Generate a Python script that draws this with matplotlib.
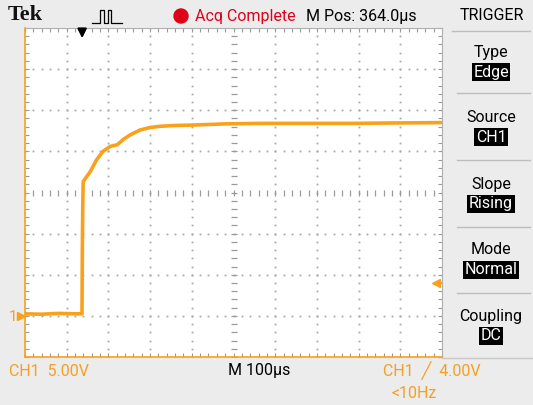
import numpy as np
import matplotlib
matplotlib.use("Agg")
import matplotlib.pyplot as plt
from matplotlib.patches import Ellipse
from matplotlib.lines import Line2D

# trace: time from left edge (us) and volts
tiempo = [0, 40, 80, 120, 136.7, 137.5, 138.5, 139.5, 146, 156, 172, 187, 204, 221,
          237, 252, 276, 300, 324, 360, 403, 484, 564, 680, 779, 880, 1000]
voltaje = [0.25, 0.2, 0.3, 0.25, 0.25, 8.0, 13.3, 16.3, 16.8, 17.5, 19.0, 20.0, 20.6, 20.8,
           21.5, 22.0, 22.6, 22.9, 23.05, 23.15, 23.2, 23.35, 23.4, 23.4, 23.4, 23.45, 23.5]

nivel_disparo = 4.0      # V
t_disparo = 137          # us
volts_div = 5.0
us_div = 100.0

menu_titulos = ["Type", "Source", "Slope", "Mode", "Coupling"]
menu_valores = ["Edge", "CH1", "Rising", "Normal", "DC"]

naranja = "#F9A11B"
texto_naranja = "#F4A024"
fondo = "#ECECEC"
fuente = ["Liberation Sans Narrow", "Roboto", "DejaVu Sans"]
plt.rcParams["font.family"] = fuente

W, H = 533, 405
fig = plt.figure(figsize=(W / 100, H / 100), dpi=100, facecolor=fondo)


def fx(x):
    return x / W


def fy(y):
    return 1 - y / H


# graticule
x0, x1, y0, y1 = 25, 442, 28, 357
ax = fig.add_axes([fx(x0), fy(y1), (x1 - x0) / W, (y1 - y0) / H])
ax.set_facecolor("white")
ax.set_xlim(0, 10 * us_div)
ax.set_ylim(-1 * volts_div, 7 * volts_div)

for t in np.arange(100, 1000, 100):
    if t != 500:
        ax.plot([t] * 41, np.linspace(-5, 35, 41), ls="none", marker="s",
                ms=1.3, color="#A8A8A8", mew=0)
for v in np.arange(0, 35, 5):
    if v != 15:
        ax.plot(np.linspace(0, 1000, 51), [v] * 51, ls="none", marker="s",
                ms=1.3, color="#A8A8A8", mew=0)
# center cross with sub-division ticks
ax.plot(np.arange(0, 1001, 20), [15] * 51, ls="none", marker="|", ms=5,
        color="#9A9A9A", mew=0.9)
ax.plot([500] * 41, np.arange(-5, 35.1, 1), ls="none", marker="_", ms=5,
        color="#9A9A9A", mew=0.9)

ax.set_xticks(np.arange(0, 1001, 20))
ax.set_yticks(np.arange(-5, 35.1, 1))
ax.tick_params(direction="in", length=3, width=0.8, colors="#9A9A9A",
               labelleft=False, labelbottom=False, top=True, right=True)
for lado in ["top", "right"]:
    ax.spines[lado].set_color("#B0B0B0")
for lado in ["left", "bottom"]:
    ax.spines[lado].set_color(naranja)
    ax.spines[lado].set_linewidth(1.2)

ax.plot(tiempo, voltaje, color=naranja, lw=2.6, solid_joinstyle="round")

# markers: ground, trigger level, trigger position
ax.plot([-9], [0], marker=">", ms=6, color=naranja, clip_on=False)
fig.text(fx(9), fy(317), "1", color=naranja, fontsize=11, va="center", ha="left")
ax.plot([985], [nivel_disparo], marker="<", ms=6, color=naranja, clip_on=False)
ax.plot([985, 1000], [nivel_disparo, nivel_disparo], color=naranja, lw=1.2)
xa = fx(x0) + t_disparo / 1000 * (x1 - x0) / W
ax.annotate("", xy=(xa * W, H - 41), xytext=(xa * W, H - 28),
            xycoords="figure pixels", textcoords="figure pixels",
            arrowprops=dict(arrowstyle="-|>", color="black", lw=1.6,
                            mutation_scale=13))

# top bar
fig.text(fx(8), fy(15), "Tek", family="Liberation Serif", weight="bold",
         fontsize=16, va="center", ha="left", color="#111111")
fig.add_artist(Line2D([fx(92), fx(100), fx(100), fx(104), fx(104), fx(108), fx(108),
                       fx(111), fx(111), fx(122)],
                      [fy(23), fy(23), fy(10), fy(10), fy(23), fy(23), fy(10), fy(10),
                       fy(23), fy(23)], color="black", lw=0.9))
fig.add_artist(Ellipse((fx(181), fy(16)), 14 / W, 14 / H, color="#E00018",
                       transform=fig.transFigure))
fig.text(fx(195), fy(16), "Acq Complete", color="#E00018", fontsize=11.5,
         va="center", ha="left")
fig.text(fx(306), fy(16), "M Pos: 364.0µs", color="black", fontsize=11.5,
         va="center", ha="left")
fig.text(fx(492), fy(16), "TRIGGER", color="black", fontsize=11.5,
         va="center", ha="center")
fig.add_artist(Line2D([fx(452), fx(530)], [fy(31), fy(31)], color="#BDBDBD", lw=1))

# right menu
ys_titulo = [52, 117, 184, 250, 316]
ys_valor = [72, 137, 204, 270, 336]
ys_linea = [93, 160, 227, 293]
for titulo, valor, yt, yv in zip(menu_titulos, menu_valores, ys_titulo, ys_valor):
    fig.text(fx(491), fy(yt), titulo, color="black", fontsize=11.5,
             va="center", ha="center")
    fig.text(fx(491), fy(yv), valor, color="white", fontsize=11.5, va="center",
             ha="center", bbox=dict(facecolor="black", edgecolor="none", pad=1.2))
for yl in ys_linea:
    fig.add_artist(Line2D([fx(457), fx(530)], [fy(yl), fy(yl)],
                          color="#BDBDBD", lw=1))
fig.add_artist(Line2D([fx(x1), fx(533)], [fy(358), fy(358)], color="#C8C8C8", lw=1))

# bottom readouts
fig.text(fx(9), fy(371), "CH1  5.00V", color=texto_naranja, fontsize=11.5,
         va="center", ha="left")
fig.text(fx(228), fy(371), "M 100µs", color="black", fontsize=11.5,
         va="center", ha="left")
fig.text(fx(383), fy(371), "CH1  ╱  4.00V", color=texto_naranja, fontsize=11.5,
         va="center", ha="left")
fig.text(fx(392), fy(393), "<10Hz", color=texto_naranja, fontsize=11.5,
         va="center", ha="left")

plt.savefig("out.png", dpi=100, facecolor=fondo)
